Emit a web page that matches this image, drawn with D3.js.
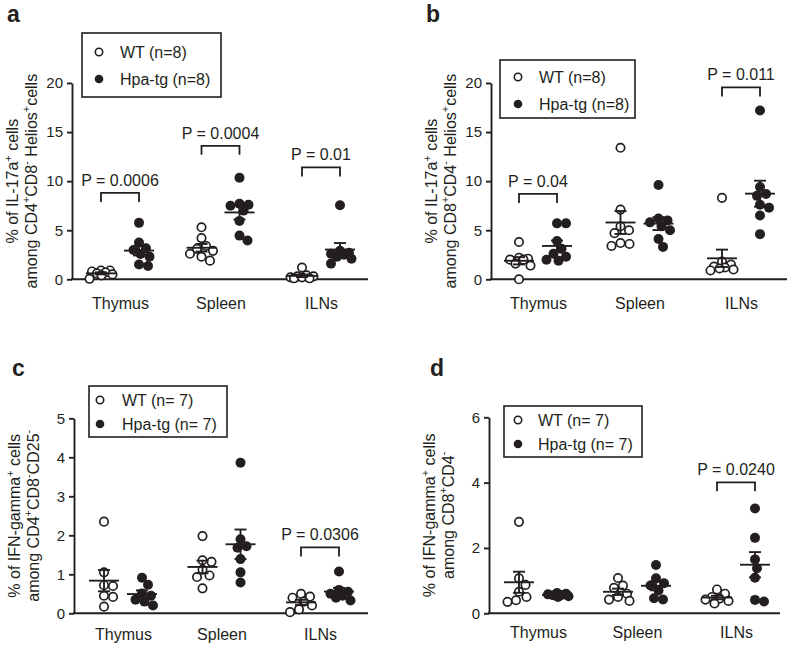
<!DOCTYPE html>
<html><head><meta charset="utf-8">
<script src="https://cdn.jsdelivr.net/npm/d3@7"></script>
<style>
body{margin:0;background:#fff}
svg{display:block}
text{font-family:"Liberation Sans",Arial,Helvetica,sans-serif;fill:#231f20}
</style>
</head><body>
<svg id="chart" width="787" height="647"></svg>
<script>
// ---------------- data ----------------
const categories = ["Thymus", "Spleen", "ILNs"];
const groups = ["WT", "Hpa-tg"];

// panel a : % IL-17a+ among CD4+CD8- Helios+
const aWT  = [[0.9,0.8,0.5,0.05,0.6,0.9,0.7,0.4],[5.3,4.2,3.4,3.1,2.9,2.6,2.3,1.9],[1.2,0.4,0.3,0.2,0.1,0.3,0.2,0.1]];
const aHpa = [[5.75,3.74,3.16,2.99,2.58,2.31,1.36,1.5],[10.35,7.7,7.6,7.5,7.0,5.95,4.45,3.95],[7.55,2.9,2.7,2.6,2.5,2.3,2.1,1.6]];
const aTicks = [0,5,10,15,20];
const aP = [["Thymus","P = 0.0006",8.8],["Spleen","P = 0.0004",13.6],["ILNs","P = 0.01",11.4]];
const aLegend = ["WT (n=8)","Hpa-tg (n=8)"];

// panel b : % IL-17a+ among CD8+CD4- Helios+
const bWT  = [[3.8,2.2,2.1,2.0,2.0,1.6,1.4,0.0],[13.4,7.1,5.4,5.0,4.7,3.7,3.6,3.4],[8.3,1.8,1.5,1.3,1.2,1.1,1.0,0.9]];
const bHpa = [[5.7,5.7,3.9,3.1,2.6,2.3,2.0,1.9],[9.6,6.2,6.0,5.8,5.4,5.0,4.1,3.3],[17.2,9.4,8.7,8.5,7.6,7.3,6.5,4.6]];
const bTicks = [0,5,10,15,20];
const bP = [["Thymus","P = 0.04",8.7],["ILNs","P = 0.011",19.55]];
const bLegend = ["WT (n=8)","Hpa-tg (n=8)"];

// panel c : % IFN-gamma+ among CD4+CD8-CD25-
const cWT  = [[2.35,1.05,0.72,0.7,0.45,0.42,0.17],[1.98,1.36,1.32,1.12,0.97,0.93,0.64],[0.5,0.43,0.4,0.3,0.2,0.1,0.03]];
const cHpa = [[0.91,0.73,0.51,0.45,0.35,0.3,0.2],[3.86,1.9,1.72,1.68,1.39,1.05,0.79],[1.07,0.6,0.55,0.5,0.45,0.4,0.33]];
const cTicks = [0,1,2,3,4,5];
const cP = [["ILNs","P = 0.0306",1.69]];
const cLegend = ["WT (n= 7)","Hpa-tg (n= 7)"];

// panel d : % IFN-gamma+ among CD8+CD4-
const dWT  = [[2.8,1.07,0.87,0.66,0.5,0.4,0.35],[1.08,0.85,0.78,0.6,0.5,0.42,0.38],[0.73,0.6,0.5,0.45,0.42,0.38,0.3]];
const dHpa = [[0.62,0.6,0.58,0.56,0.55,0.52,0.5],[1.48,1.07,0.92,0.85,0.7,0.46,0.42],[3.21,2.31,1.65,1.38,1.09,0.41,0.36]];
const dTicks = [0,2,4,6];
const dP = [["ILNs","P = 0.0240",4.01]];
const dLegend = ["WT (n= 7)","Hpa-tg (n= 7)"];

// axis titles: [text, isSuperscript]
const aTitle = [[["% of IL-17a",0],["+",1],[" cells",0]],
                [["among CD4",0],["+",1],["CD8",0],["-",1],[" Helios",0],["+",1],["cells",0]]];
const bTitle = [[["% of IL-17a",0],["+",1],[" cells",0]],
                [["among CD8",0],["+",1],["CD4",0],["-",1],[" Helios",0],["+",1],["cells",0]]];
const cTitle = [[["% of IFN-gamma",0],["+",1],[" cells",0]],
                [["among CD4",0],["+",1],["CD8",0],["-",1],["CD25",0],["-",1]]];
const dTitle = [[["% of IFN-gamma",0],["+",1],[" cells",0]],
                [["among CD8",0],["+",1],["CD4",0],["-",1]]];

// ---------------- layout ----------------
const INK = "#231f20";
const panels = [
  {label:"a", lx:7,   ly:22,  wt:aWT, hpa:aHpa, ticks:aTicks, p:aP, legend:aLegend, title:aTitle,
   x0:72,  x1:368, inner:[120,321], yTop:83,    yBot:279.3, catDy:30,
   box:{x:82,y:33,w:139,h:64,r1:52,r2:79,sx:99,tx:120}},
  {label:"b", lx:426, ly:22,  wt:bWT, hpa:bHpa, ticks:bTicks, p:bP, legend:bLegend, title:bTitle,
   x0:491, x1:787, inner:[538,741], yTop:83,    yBot:279.3, catDy:30,
   box:{x:500,y:60,w:135,h:58,r1:77,r2:104,sx:518,tx:539}},
  {label:"c", lx:12,  ly:376, wt:cWT, hpa:cHpa, ticks:cTicks, p:cP, legend:cLegend, title:cTitle,
   x0:74,  x1:368, inner:[123,320], yTop:418.3, yBot:613.3, catDy:27,
   box:{x:89,y:386,w:138,h:51,r1:400,r2:424,sx:100,tx:122}},
  {label:"d", lx:430, ly:376, wt:dWT, hpa:dHpa, ticks:dTicks, p:dP, legend:dLegend, title:dTitle,
   x0:489, x1:780, inner:[538,736], yTop:417.3, yBot:613.3, catDy:25,
   box:{x:504,y:406,w:138,h:51,r1:420,r2:444,sx:518,tx:538}}
];
const GOFF = 19;   // WT / Hpa offset from category centre
const R = 5;

const svg = d3.select("#chart");

// bounded beeswarm: spread overlapping dots sideways, within +-maxOff px
function swarm(vals, y, cx, minD, maxOff) {
  const pts = vals.map(v => ({v, py: y(v)})).sort((a,b) => a.py - b.py);
  const placed = [];
  const cands = [0];
  for (let o = 0.5; o <= maxOff; o += 0.5) cands.push(o, -o);
  for (const p of pts) {
    let best = null, bestD = -1;
    for (const off of cands) {
      const px = cx + off;
      const dmin = placed.length ? d3.min(placed, q => Math.hypot(q.px - px, q.py - p.py)) : Infinity;
      if (dmin >= minD) { best = px; break; }
      if (dmin > bestD + 0.01) { bestD = dmin; best = px; }
    }
    p.px = best;
    placed.push(p);
  }
  return placed;
}

function addRich(sel, segs, size) {
  let up = false;
  segs.forEach(([t, s]) => {
    const ts = sel.append("tspan").text(t);
    if (s && !up) { ts.attr("dy", -size*0.38).attr("font-size", size*0.68); up = true; }
    else if (s) { ts.attr("font-size", size*0.68); }
    else if (!s && up) { ts.attr("dy", size*0.38).attr("font-size", size); up = false; }
    else ts.attr("font-size", size);
  });
}

panels.forEach(P => {
  const g = svg.append("g");
  const y = d3.scaleLinear().domain([0, d3.max(P.ticks)]).range([P.yBot, P.yTop]);
  const x = d3.scalePoint().domain(categories).range(P.inner);

  // panel letter
  g.append("text").attr("x", P.lx).attr("y", P.ly).text(P.label)
    .attr("font-size", 23).attr("font-weight", "bold");

  // y axis
  const ya = g.append("g").attr("transform", `translate(${P.x0},0)`)
    .call(d3.axisLeft(y).tickValues(P.ticks).tickFormat(d3.format("d"))
      .tickSize(5).tickSizeOuter(0).tickPadding(4));
  ya.selectAll("path,line").attr("stroke", INK).attr("stroke-width", 1.9);
  ya.selectAll("text").attr("font-size", 15).attr("fill", INK)
    .attr("font-family", '"Liberation Sans",Arial,sans-serif');

  // x axis baseline and category labels
  g.append("line").attr("x1", P.x0 - 0.95).attr("x2", P.x1).attr("y1", y(0)).attr("y2", y(0))
    .attr("stroke", INK).attr("stroke-width", 1.9);
  const xa = g.append("g").attr("transform", `translate(0,${y(0)})`)
    .call(d3.axisBottom(x).tickSize(0).tickPadding(0));
  xa.select(".domain").remove();
  xa.selectAll("text").attr("font-size", 16).attr("fill", INK).attr("dy", null)
    .attr("y", P.catDy).attr("font-family", '"Liberation Sans",Arial,sans-serif');

  // axis title
  const cy = (P.yTop + P.yBot) / 2;
  const tg = g.append("g").attr("transform", `translate(${P.x0 - 54},${cy}) rotate(-90)`);
  P.title.forEach((segs, i) => {
    const t = tg.append("text").attr("x", 0).attr("y", i * 18.5).attr("text-anchor", "middle");
    addRich(t, segs, 16);
  });

  // points + mean/SEM
  categories.forEach((cat, ci) => {
    [[P.wt[ci], -GOFF, false], [P.hpa[ci], GOFF, true]].forEach(([vals, off, filled]) => {
      const cx = x(cat) + off;
      const pts = swarm(vals, y, cx, 9, 11.5);
      g.append("g").selectAll("circle").data(pts).join("circle")
        .attr("cx", d => d.px).attr("cy", d => d.py)
        .attr("r", filled ? R : R - 0.8)
        .attr("fill", filled ? INK : "#fff")
        .attr("stroke", INK).attr("stroke-width", filled ? 0 : 1.7);
      const m = d3.mean(vals);
      const sem = d3.deviation(vals) / Math.sqrt(vals.length);
      const eg = g.append("g").attr("stroke", INK).attr("stroke-width", 1.9);
      eg.append("line").attr("x1", cx).attr("x2", cx).attr("y1", y(m - sem)).attr("y2", y(m + sem));
      eg.append("line").attr("x1", cx - 6).attr("x2", cx + 6).attr("y1", y(m + sem)).attr("y2", y(m + sem));
      eg.append("line").attr("x1", cx - 6).attr("x2", cx + 6).attr("y1", y(m - sem)).attr("y2", y(m - sem));
      eg.append("line").attr("x1", cx - 15).attr("x2", cx + 15).attr("y1", y(m)).attr("y2", y(m));
    });
  });

  // significance brackets
  P.p.forEach(([cat, lab, lvl]) => {
    const xl = x(cat) - GOFF, xr = x(cat) + GOFF, yy = y(lvl);
    g.append("path").attr("d", `M${xl},${yy + 9}V${yy}H${xr}V${yy + 9}`)
      .attr("fill", "none").attr("stroke", INK).attr("stroke-width", 1.8);
    g.append("text").attr("x", x(cat)).attr("y", yy - 7).attr("text-anchor", "middle")
      .attr("font-size", 16).text(lab);
  });

  // legend
  const b = P.box;
  g.append("rect").attr("x", b.x).attr("y", b.y).attr("width", b.w).attr("height", b.h)
    .attr("fill", "#fff").attr("stroke", INK).attr("stroke-width", 1.6);
  [[b.r1, false], [b.r2, true]].forEach(([ry, filled], i) => {
    g.append("circle").attr("cx", b.sx).attr("cy", ry).attr("r", filled ? 4.3 : 3.7)
      .attr("fill", filled ? INK : "#fff").attr("stroke", INK).attr("stroke-width", filled ? 0 : 1.6);
    g.append("text").attr("x", b.tx).attr("y", ry).attr("dy", "0.36em")
      .attr("font-size", 16).text(P.legend[i]);
  });
});
</script>
</body></html>
